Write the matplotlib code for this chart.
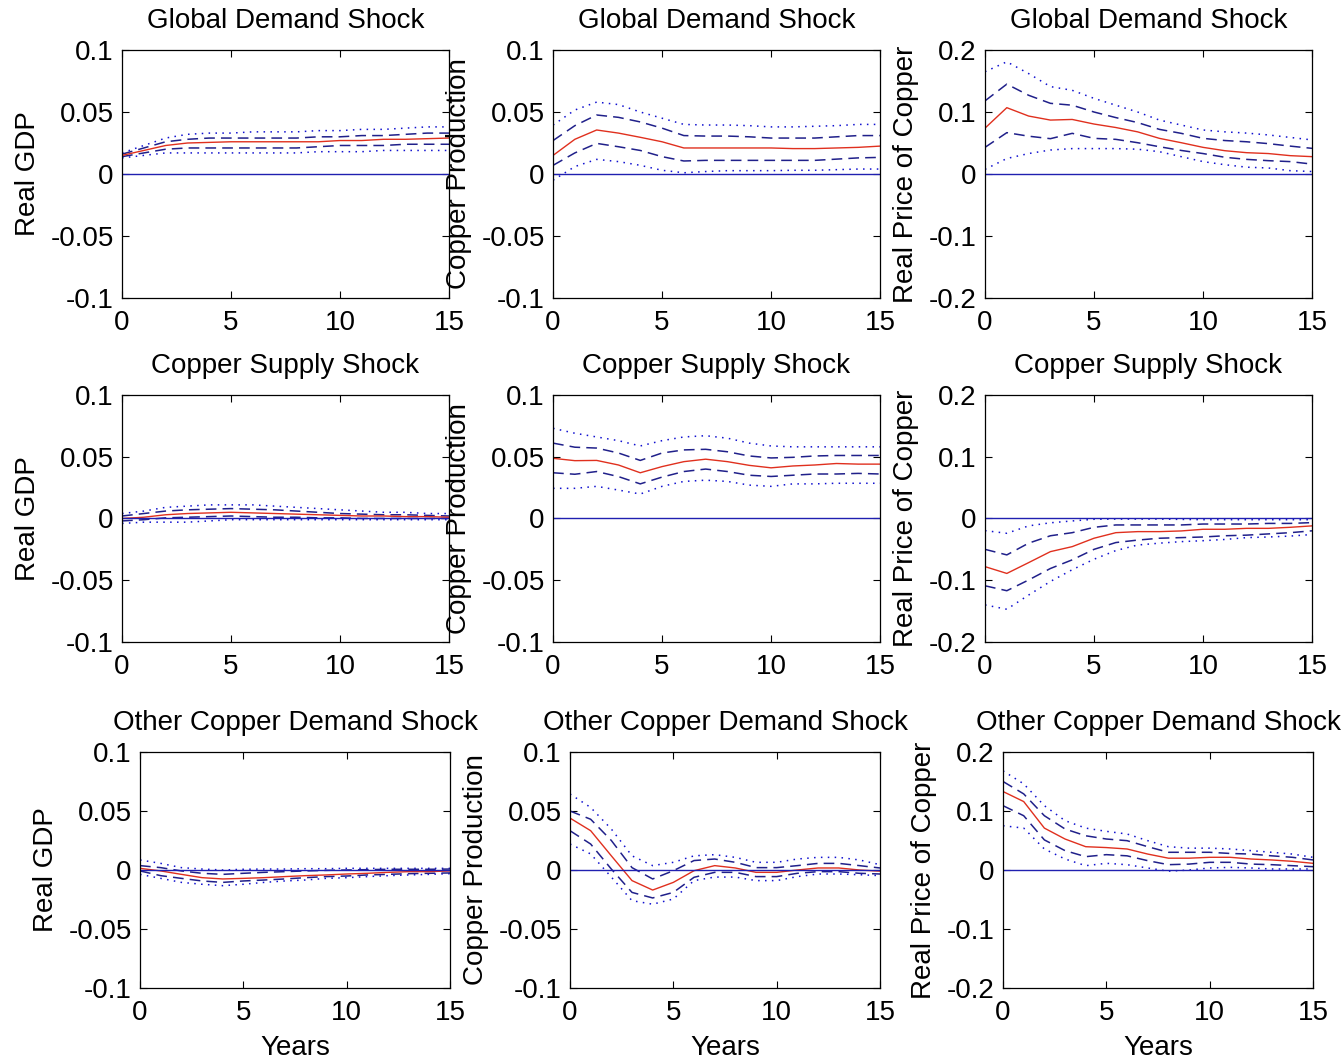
import numpy as np
import matplotlib
matplotlib.use("Agg")
import matplotlib.pyplot as plt

plt.rcParams['font.family'] = ['Liberation Sans', 'DejaVu Sans']
plt.rcParams['axes.unicode_minus'] = False

years = np.arange(16)

shocks = ["Global Demand Shock", "Copper Supply Shock", "Other Copper Demand Shock"]
variables = ["Real GDP", "Copper Production", "Real Price of Copper"]

# each panel: [median, dashed lower, dashed upper, dotted lower, dotted upper]
gdp_global = [
    [0.015, 0.019, 0.023, 0.025, 0.0255, 0.026, 0.026, 0.026, 0.026, 0.026, 0.027, 0.027, 0.028, 0.028, 0.0285, 0.029],
    [0.014, 0.017, 0.020, 0.021, 0.021, 0.021, 0.021, 0.021, 0.021, 0.022, 0.023, 0.023, 0.023, 0.024, 0.024, 0.024],
    [0.016, 0.021, 0.026, 0.028, 0.029, 0.029, 0.029, 0.029, 0.029, 0.030, 0.030, 0.031, 0.031, 0.032, 0.033, 0.033],
    [0.013, 0.015, 0.017, 0.017, 0.017, 0.017, 0.017, 0.017, 0.017, 0.018, 0.018, 0.018, 0.019, 0.019, 0.019, 0.019],
    [0.017, 0.023, 0.029, 0.032, 0.033, 0.033, 0.034, 0.034, 0.034, 0.035, 0.035, 0.036, 0.036, 0.037, 0.038, 0.038],
]
prod_global = [
    [0.015, 0.028, 0.0355, 0.033, 0.0296, 0.026, 0.021, 0.021, 0.021, 0.021, 0.021, 0.0205, 0.0205, 0.021, 0.0215, 0.0225],
    [0.007, 0.017, 0.0247, 0.022, 0.019, 0.014, 0.0105, 0.011, 0.011, 0.011, 0.011, 0.011, 0.011, 0.012, 0.013, 0.0134],
    [0.027, 0.039, 0.0476, 0.0457, 0.042, 0.037, 0.031, 0.0306, 0.0306, 0.030, 0.029, 0.029, 0.029, 0.030, 0.031, 0.031],
    [-0.005, 0.006, 0.0118, 0.010, 0.007, 0.003, 0.001, 0.002, 0.0027, 0.0027, 0.0027, 0.003, 0.003, 0.0035, 0.004, 0.004],
    [0.0395, 0.0516, 0.058, 0.056, 0.050, 0.045, 0.040, 0.0395, 0.0395, 0.039, 0.038, 0.038, 0.0385, 0.039, 0.040, 0.040],
]
price_global = [
    [0.074, 0.107, 0.0935, 0.087, 0.088, 0.0806, 0.075, 0.068, 0.0575, 0.0505, 0.043, 0.0376, 0.0344, 0.033, 0.0296, 0.028],
    [0.043, 0.0667, 0.061, 0.057, 0.0656, 0.0575, 0.0559, 0.0505, 0.044, 0.038, 0.033, 0.027, 0.0236, 0.0215, 0.020, 0.016],
    [0.118, 0.145, 0.127, 0.114, 0.111, 0.100, 0.091, 0.083, 0.072, 0.0656, 0.0575, 0.054, 0.052, 0.049, 0.045, 0.0414],
    [0.0075, 0.025, 0.033, 0.0387, 0.041, 0.041, 0.041, 0.040, 0.036, 0.028, 0.020, 0.015, 0.011, 0.0097, 0.0054, 0.004],
    [0.165, 0.181, 0.162, 0.141, 0.135, 0.122, 0.111, 0.100, 0.087, 0.079, 0.071, 0.068, 0.066, 0.063, 0.059, 0.055],
]
gdp_supply = [
    [0.000, 0.001, 0.003, 0.004, 0.0045, 0.005, 0.0045, 0.004, 0.0035, 0.003, 0.0025, 0.002, 0.002, 0.0015, 0.0015, 0.001],
    [-0.002, -0.001, 0.0005, 0.001, 0.0015, 0.002, 0.0015, 0.001, 0.001, 0.0005, 0.0005, 0.000, 0.000, 0.000, 0.000, 0.000],
    [0.002, 0.004, 0.006, 0.007, 0.0075, 0.008, 0.0075, 0.007, 0.006, 0.005, 0.004, 0.0035, 0.003, 0.003, 0.0025, 0.002],
    [-0.004, -0.003, -0.003, -0.003, -0.002, -0.001, -0.001, -0.001, -0.001, -0.001, -0.001, -0.001, -0.001, -0.001, -0.001, -0.001],
    [0.004, 0.006, 0.009, 0.010, 0.011, 0.011, 0.011, 0.010, 0.009, 0.008, 0.007, 0.006, 0.005, 0.005, 0.004, 0.004],
]
prod_supply = [
    [0.0487, 0.0468, 0.047, 0.0433, 0.037, 0.042, 0.046, 0.048, 0.046, 0.043, 0.041, 0.0425, 0.0433, 0.0445, 0.044, 0.044],
    [0.037, 0.0358, 0.038, 0.0339, 0.028, 0.0335, 0.038, 0.040, 0.038, 0.035, 0.034, 0.035, 0.036, 0.036, 0.0365, 0.036],
    [0.061, 0.0577, 0.057, 0.053, 0.047, 0.053, 0.0555, 0.056, 0.054, 0.0506, 0.049, 0.0495, 0.0506, 0.051, 0.051, 0.051],
    [0.0244, 0.0244, 0.026, 0.023, 0.0198, 0.026, 0.030, 0.031, 0.030, 0.027, 0.026, 0.028, 0.028, 0.0285, 0.0285, 0.0285],
    [0.073, 0.069, 0.066, 0.063, 0.0587, 0.063, 0.066, 0.067, 0.065, 0.061, 0.0587, 0.058, 0.058, 0.058, 0.058, 0.058],
]
price_supply = [
    [-0.078, -0.089, -0.0715, -0.0537, -0.0456, -0.032, -0.023, -0.0213, -0.0213, -0.0202, -0.0175, -0.0175, -0.016, -0.016, -0.0143, -0.012],
    [-0.109, -0.117, -0.0996, -0.081, -0.067, -0.050, -0.039, -0.035, -0.032, -0.031, -0.030, -0.028, -0.027, -0.025, -0.023, -0.020],
    [-0.050, -0.059, -0.040, -0.028, -0.023, -0.0143, -0.0105, -0.0105, -0.0105, -0.0105, -0.009, -0.009, -0.009, -0.008, -0.008, -0.0067],
    [-0.140, -0.147, -0.124, -0.102, -0.083, -0.066, -0.052, -0.043, -0.040, -0.0375, -0.036, -0.034, -0.031, -0.030, -0.0285, -0.026],
    [-0.0197, -0.024, -0.012, -0.007, -0.004, -0.0013, -0.001, -0.001, -0.001, -0.0015, -0.002, -0.002, -0.002, -0.002, -0.002, -0.002],
]
gdp_other = [
    [0.0014, -0.0008, -0.0037, -0.0065, -0.0076, -0.0071, -0.0065, -0.0056, -0.0048, -0.0042, -0.0034, -0.0028, -0.002, -0.0014, -0.0014, -0.0008],
    [-0.0008, -0.0048, -0.0071, -0.0093, -0.0105, -0.0093, -0.0085, -0.0076, -0.0065, -0.0056, -0.0051, -0.0042, -0.0037, -0.0031, -0.0028, -0.0025],
    [0.0037, 0.002, -0.0008, -0.0028, -0.0037, -0.0028, -0.002, -0.0014, -0.0008, -0.0003, 0.0, 0.0003, 0.0006, 0.0006, 0.0006, 0.0008],
    [-0.0037, -0.0071, -0.0105, -0.0121, -0.0133, -0.0121, -0.0105, -0.0093, -0.0085, -0.0071, -0.0065, -0.0056, -0.0048, -0.0042, -0.0037, -0.0031],
    [0.0085, 0.0056, 0.002, 0.0008, 0.0, 0.0006, 0.0008, 0.0008, 0.0011, 0.0011, 0.0014, 0.0014, 0.0014, 0.0014, 0.0014, 0.0014],
]
prod_other = [
    [0.044, 0.0333, 0.012, -0.009, -0.017, -0.0105, -0.0006, 0.0037, 0.0017, -0.002, -0.002, 0.0, 0.0017, 0.0017, 0.0, -0.001],
    [0.0333, 0.022, 0.0008, -0.019, -0.0237, -0.019, -0.0062, -0.002, -0.002, -0.0056, -0.0056, -0.0028, -0.0014, -0.0014, -0.0028, -0.0034],
    [0.050, 0.043, 0.025, 0.002, -0.0076, -0.0006, 0.008, 0.0093, 0.0065, 0.002, 0.002, 0.0037, 0.0056, 0.0056, 0.0037, 0.0017],
    [0.022, 0.0136, -0.006, -0.026, -0.029, -0.0246, -0.009, -0.006, -0.006, -0.009, -0.009, -0.0056, -0.0034, -0.0034, -0.004, -0.0048],
    [0.0644, 0.053, 0.0347, 0.012, 0.0037, 0.0065, 0.012, 0.013, 0.0107, 0.0065, 0.0065, 0.0093, 0.0107, 0.0107, 0.0085, 0.0045],
]
price_other = [
    [0.133, 0.116, 0.071, 0.0525, 0.0395, 0.038, 0.0356, 0.027, 0.020, 0.020, 0.0215, 0.0215, 0.0186, 0.017, 0.0147, 0.0113],
    [0.109, 0.092, 0.051, 0.0328, 0.0226, 0.026, 0.024, 0.0158, 0.009, 0.010, 0.013, 0.013, 0.010, 0.009, 0.0073, 0.0056],
    [0.150, 0.129, 0.092, 0.0695, 0.058, 0.0525, 0.0497, 0.0395, 0.030, 0.030, 0.030, 0.028, 0.027, 0.024, 0.0215, 0.017],
    [0.075, 0.071, 0.0356, 0.0186, 0.0073, 0.0113, 0.009, 0.0034, -0.002, 0.0, 0.0034, 0.0045, 0.0034, 0.0017, 0.0017, 0.0017],
    [0.168, 0.146, 0.109, 0.0836, 0.071, 0.0655, 0.061, 0.0497, 0.0395, 0.037, 0.037, 0.0356, 0.0328, 0.030, 0.027, 0.0215],
]

panels = [
    [gdp_global, prod_global, price_global],
    [gdp_supply, prod_supply, price_supply],
    [gdp_other, prod_other, price_other],
]
ylims = [0.1, 0.1, 0.2]

fig = plt.figure(figsize=(13.44, 10.62), dpi=100)

row_pos = [(0.7194, 0.2335), (0.3955, 0.2326), (0.0697, 0.2222)]
col_left = [[0.0908, 0.4115, 0.7329], [0.0908, 0.4115, 0.7329], [0.1042, 0.4241, 0.7463]]
col_w = [0.2433, 0.2433, 0.2307]

fs = 20
for i in range(3):
    for j in range(3):
        b, h = row_pos[i]
        ax = fig.add_axes([col_left[i][j], b, col_w[i], h])
        mid, dlo, dhi, tlo, thi = [np.array(a) for a in panels[i][j]]
        ax.plot(years, thi, color='#1010d0', lw=1.1, dashes=(1, 3.5))
        ax.plot(years, tlo, color='#1010d0', lw=1.1, dashes=(1, 3.5))
        ax.plot(years, dhi, color='#20208a', lw=1.1, dashes=(7, 4))
        ax.plot(years, dlo, color='#20208a', lw=1.1, dashes=(7, 4))
        ax.plot(years, mid, '-', color='#e0301e', lw=1.0)
        ax.axhline(0, color='#2020b0', lw=1.0)
        lim = ylims[j]
        ax.set_xlim(0, 15)
        ax.set_ylim(-lim, lim)
        ax.set_xticks([0, 5, 10, 15])
        ax.set_yticks(np.linspace(-lim, lim, 5))
        if j == 2:
            ax.set_yticklabels(['-0.2', '-0.1', '0', '0.1', '0.2'])
        else:
            ax.set_yticklabels(['-0.1', '-0.05', '0', '0.05', '0.1'])
        ax.tick_params(direction='in', length=5, width=0.8, top=True, right=True,
                       labelsize=fs)
        ax.tick_params(axis='x', pad=9)
        ax.tick_params(axis='y', pad=6)
        for s in ax.spines.values():
            s.set_linewidth(0.9)
        ax.set_title(shocks[i], fontsize=fs, pad=16)
        ax.set_ylabel(variables[j], fontsize=fs, labelpad=7)
        if i == 2:
            ax.set_xlabel('Years', fontsize=fs, labelpad=6)

fig.savefig('out.png', dpi=100)
